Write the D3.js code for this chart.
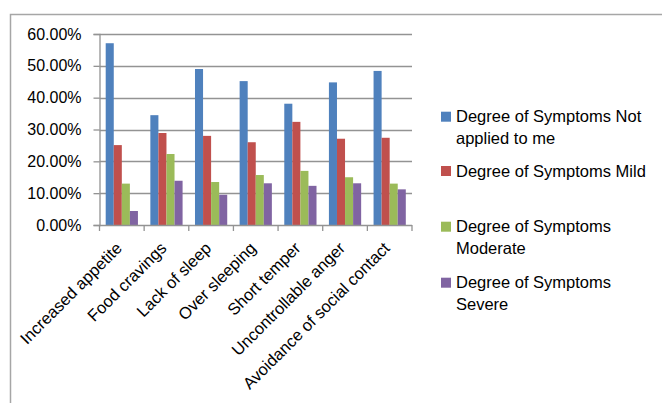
<!DOCTYPE html>
<html>
<head>
<meta charset="utf-8">
<script src="https://cdn.jsdelivr.net/npm/d3@7"></script>
<style>
  html, body { margin: 0; padding: 0; background: #fff; }
  svg { display: block; font-family: "Liberation Sans", Arial, sans-serif; }
</style>
</head>
<body>
<svg id="chart" width="662" height="403"></svg>
<script>
// Symptom categories along the x axis
const categories = [
  "Increased appetite", "Food cravings", "Lack of sleep", "Over sleeping",
  "Short temper", "Uncontrollable anger", "Avoidance of social contact"
];

// Share of respondents per degree of symptoms (%)
const notApplied = [57.1, 34.5, 49.0, 45.2, 38.1, 44.8, 48.4];
const mild       = [25.1, 28.9, 28.0, 26.0, 32.4, 27.1, 27.4];
const moderate   = [13.0, 22.3, 13.5, 15.7, 17.0, 15.0, 13.0];
const severe     = [4.4, 13.9, 9.5, 13.1, 12.3, 13.1, 11.2];

const seriesNames = [
  ["Degree of Symptoms Not", "applied to me"],
  ["Degree of Symptoms Mild"],
  ["Degree of Symptoms", "Moderate"],
  ["Degree of Symptoms", "Severe"]
];
const seriesValues = [notApplied, mild, moderate, severe];
const colors = ["#4F81BD", "#C0504D", "#9BBB59", "#8064A2"];

const yTicks = [0, 10, 20, 30, 40, 50, 60];

const svg = d3.select("#chart");

// outer frame (top and left edges)
svg.append("path")
  .attr("d", "M10.5,403 V14.5 H662")
  .attr("fill", "none")
  .attr("stroke", "#a6a6a6")
  .attr("stroke-width", 1.5);

const plot = { left: 99.5, right: 412, top: 34, bottom: 225 };

const x = d3.scaleBand().domain(categories).range([plot.left, plot.right]).paddingInner(0).paddingOuter(0);
const inner = d3.scaleBand().domain(d3.range(4)).range([0, x.bandwidth()]).paddingInner(0).paddingOuter(0.77);
const y = d3.scaleLinear().domain([0, 60]).range([plot.bottom, plot.top]);

// horizontal gridlines
svg.append("g").selectAll("line").data(yTicks.filter(d => d > 0)).join("line")
  .attr("x1", plot.left).attr("x2", plot.right)
  .attr("y1", d => Math.round(y(d)) + 0.5).attr("y2", d => Math.round(y(d)) + 0.5)
  .attr("stroke", "#939393").attr("stroke-width", 1.3);

// y axis
const yAxis = d3.axisLeft(y).tickValues(yTicks).tickSize(6).tickPadding(12)
  .tickFormat(d => d3.format(".2f")(d) + "%");
const gy = svg.append("g").attr("transform", `translate(${plot.left},0)`).call(yAxis);
gy.select(".domain").attr("stroke", "#939393").attr("stroke-width", 1.3);
gy.selectAll(".tick line").attr("stroke", "#939393").attr("stroke-width", 1.3);
gy.selectAll(".tick text").attr("font-size", 16).attr("fill", "#000")
  .attr("font-family", "Liberation Sans, Arial, sans-serif");

// bars
const groups = svg.append("g").selectAll("g").data(categories).join("g")
  .attr("transform", d => `translate(${x(d)},0)`);
groups.selectAll("rect")
  .data((c, i) => seriesValues.map((vals, s) => ({ s, v: vals[i] })))
  .join("rect")
  .attr("x", d => inner(d.s))
  .attr("width", inner.bandwidth())
  .attr("y", d => y(d.v))
  .attr("height", d => y(0) - y(d.v))
  .attr("fill", d => colors[d.s]);

// x axis with ticks between categories
const gx = svg.append("g").attr("transform", `translate(0,${plot.bottom})`);
gx.append("line").attr("x1", plot.left).attr("x2", plot.right)
  .attr("y1", 0.5).attr("y2", 0.5).attr("stroke", "#939393").attr("stroke-width", 1.3);
const boundaries = categories.map(c => x(c)).concat([plot.right]);
gx.selectAll("line.tk").data(boundaries).join("line").attr("class", "tk")
  .attr("x1", d => d).attr("x2", d => d).attr("y1", 0).attr("y2", 6)
  .attr("stroke", "#939393").attr("stroke-width", 1.3);

// rotated category labels
svg.append("g").selectAll("text").data(categories).join("text")
  .attr("transform", d => `translate(${x(d) + x.bandwidth() / 2 - 7},${plot.bottom + 16}) rotate(-45)`)
  .attr("text-anchor", "end")
  .attr("dy", "0.7em")
  .attr("font-size", 16.5)
  .attr("fill", "#000")
  .text(d => d);

// legend
const legendY = [116.7, 171, 226.7, 282.7];
const lg = svg.append("g").selectAll("g").data(seriesNames).join("g")
  .attr("transform", (d, i) => `translate(441,${legendY[i]})`);
lg.append("rect").attr("x", 0).attr("y", -5).attr("width", 10).attr("height", 10)
  .attr("fill", (d, i) => colors[i]);
lg.each(function(lines) {
  const t = d3.select(this).append("text").attr("x", 15).attr("y", 0)
    .attr("font-size", 16.5).attr("fill", "#000");
  lines.forEach((ln, k) => {
    t.append("tspan").attr("x", 15).attr("dy", k === 0 ? "0.35em" : 22).text(ln);
  });
});
</script>
</body>
</html>
